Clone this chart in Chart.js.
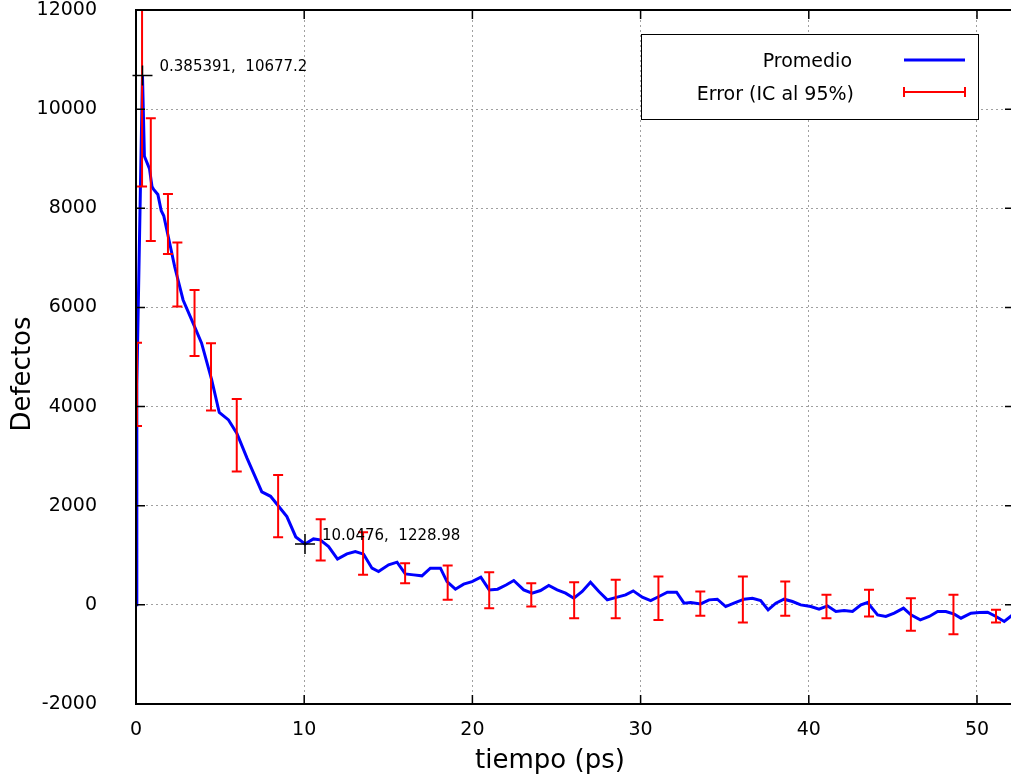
<!DOCTYPE html>
<html>
<head>
<meta charset="utf-8">
<script src="https://cdn.jsdelivr.net/npm/chart.js@4.4.0/dist/chart.umd.min.js"></script>
<style>
html, body { margin: 0; padding: 0; background: #fff; overflow: hidden; width: 1011px; height: 781px; }
#wrap { width: 1014px; height: 781px; }
</style>
</head>
<body>
<div id="wrap"><canvas id="defectChart" width="1014" height="781"></canvas></div>
<script>
// mean curve (tiempo in ps, defectos)
const timeValues = [0, 0.05, 0.385, 0.5, 0.8, 0.95, 1.05, 1.3, 1.5, 1.65, 2.0, 2.3, 2.8, 3.4, 3.9, 4.5, 4.95, 5.5,
  6.0, 6.6, 7.48, 8.0, 8.97, 9.5, 10.05, 10.55, 10.95, 11.45, 11.98, 12.54, 13.04, 13.53, 14.03, 14.42,
  15.02, 15.52, 16.01, 16.5, 17.0, 17.5, 18.1, 18.49, 18.99, 19.48, 19.98, 20.5, 21.0, 21.5, 22.0, 22.46,
  23.05, 23.55, 24.05, 24.54, 25.04, 25.54, 26.03, 26.53, 27.02, 27.52, 28.02, 28.61, 29.11, 29.56, 30.1,
  30.6, 31.09, 31.59, 32.14, 32.58, 32.98, 33.57, 34.07, 34.56, 35.06, 35.55, 36.15, 36.65, 37.14, 37.58,
  38.04, 38.53, 39.03, 39.52, 40.12, 40.61, 41.11, 41.61, 42.1, 42.6, 43.1, 43.49, 44.09, 44.58, 45.08,
  45.63, 46.07, 46.63, 47.16, 47.66, 48.15, 48.65, 49.05, 49.64, 50.14, 50.63, 51.13, 51.62, 52.2];
const meanValues = [0, 4450, 10677, 9050, 8800, 8440, 8380, 8280, 7950, 7850, 7300, 6820, 6150, 5680, 5280, 4540, 3880, 3730,
  3460, 2960, 2280, 2190, 1780, 1370, 1229, 1330, 1311, 1176, 922, 1029, 1075, 1022, 740, 672,
  807, 861, 625, 605, 585, 740, 740, 470, 316, 417, 470, 558, 302, 316, 400, 491,
  302, 235, 289, 390, 302, 235, 134, 269, 457, 269, 101, 155, 202, 282, 155,
  87, 168, 256, 256, 34, 47, 20, 101, 114, -34, 34, 114, 134, 87, -101,
  34, 114, 67, 0, -34, -87, -20, -134, -114, -134, 0, 47, -202, -235, -168,
  -67, -202, -303, -235, -134, -134, -188, -269, -168, -155, -148, -235, -336, -180];

// 95% confidence interval bars
const errTimes = [0.06, 0.36, 0.88, 1.9, 2.46, 3.48, 4.46, 5.99, 8.45, 10.98, 13.5, 16.0, 18.53, 21.0,
  23.5, 26.05, 28.52, 31.06, 33.55, 36.08, 38.6, 41.05, 43.58, 46.07, 48.6, 51.13];
const errLow = [3610, 8440, 7340, 7080, 6020, 5020, 3920, 2690, 1365, 894, 605, 438, 101, -67,
  -34, -269, -269, -303, -222, -356, -222, -269, -235, -524, -591, -356];
const errHigh = [5285, 12000, 9817, 8290, 7308, 6354, 5278, 4155, 2622, 1728, 1466, 841, 793, 660,
  438, 457, 504, 571, 269, 571, 471, 202, 303, 134, 202, -101];

// labelled points
const markTimes = [0.385391, 10.0476];
const markValues = [10677.2, 1228.98];
const markLabels = ["0.385391,  10677.2", "10.0476,  1228.98"];

const xTicks = [0, 10, 20, 30, 40, 50];
const yTicks = [-2000, 0, 2000, 4000, 6000, 8000, 10000, 12000];

const FONT = "'DejaVu Sans', sans-serif";

const gnuplotLook = {
    id: "gnuplotLook",
    afterDatasetDraw(chart, args) {
        if (args.index !== 1) return;
        const ctx = chart.ctx;
        const x = chart.scales.x, y = chart.scales.y;
        const area = chart.chartArea;
        ctx.save();
        ctx.beginPath();
        ctx.rect(area.left, area.top - 1, area.right - area.left, area.bottom - area.top + 2);
        ctx.clip();
        ctx.strokeStyle = "#ff0000";
        ctx.lineWidth = 2;
        ctx.beginPath();
        errTimes.forEach((t, i) => {
            const px = x.getPixelForValue(t);
            const lo = y.getPixelForValue(errLow[i]);
            const hi = y.getPixelForValue(errHigh[i]);
            ctx.moveTo(px, lo); ctx.lineTo(px, hi);
            ctx.moveTo(px - 5, lo); ctx.lineTo(px + 5, lo);
            ctx.moveTo(px - 5, hi); ctx.lineTo(px + 5, hi);
        });
        ctx.stroke();
        ctx.restore();
    },
    afterDraw(chart) {
        const ctx = chart.ctx;
        const x = chart.scales.x, y = chart.scales.y;
        const a = chart.chartArea;
        ctx.save();
        // frame with inward ticks
        ctx.strokeStyle = "#000";
        ctx.lineWidth = 2;
        ctx.strokeRect(a.left, a.top, a.right - a.left, a.bottom - a.top);
        ctx.lineWidth = 1.5;
        ctx.beginPath();
        xTicks.forEach(v => {
            const px = x.getPixelForValue(v);
            ctx.moveTo(px, a.bottom); ctx.lineTo(px, a.bottom - 9);
            ctx.moveTo(px, a.top); ctx.lineTo(px, a.top + 9);
        });
        yTicks.forEach(v => {
            const py = y.getPixelForValue(v);
            ctx.moveTo(a.left, py); ctx.lineTo(a.left + 9, py);
            ctx.moveTo(a.right, py); ctx.lineTo(a.right - 9, py);
        });
        ctx.stroke();

        // point labels
        ctx.fillStyle = "#000";
        ctx.font = "15px " + FONT;
        ctx.textAlign = "left";
        ctx.textBaseline = "middle";
        markLabels.forEach((txt, i) => {
            const px = x.getPixelForValue(markTimes[i]);
            const py = y.getPixelForValue(markValues[i]);
            ctx.fillText(txt, px + 17, py - 8);
        });

        // axis titles
        ctx.font = "26px " + FONT;
        ctx.textAlign = "center";
        ctx.fillText("tiempo (ps)", 550, 761);
        ctx.save();
        ctx.translate(23, 374);
        ctx.rotate(-Math.PI / 2);
        ctx.fillText("Defectos", 0, 0);
        ctx.restore();

        // legend
        ctx.fillStyle = "#fff";
        ctx.fillRect(641, 34, 337, 85);
        ctx.lineWidth = 1;
        ctx.strokeStyle = "#000";
        ctx.strokeRect(641.5, 34.5, 337, 85);
        ctx.fillStyle = "#000";
        ctx.font = "19px " + FONT;
        ctx.textAlign = "right";
        ctx.fillText("Promedio", 852, 62);
        ctx.fillText("Error (IC al 95%)", 854, 95);
        ctx.strokeStyle = "#0000ff";
        ctx.lineWidth = 3;
        ctx.beginPath();
        ctx.moveTo(904, 60); ctx.lineTo(965, 60);
        ctx.stroke();
        ctx.strokeStyle = "#ff0000";
        ctx.lineWidth = 2;
        ctx.beginPath();
        ctx.moveTo(904, 92); ctx.lineTo(965, 92);
        ctx.moveTo(904, 87); ctx.lineTo(904, 97);
        ctx.moveTo(965, 87); ctx.lineTo(965, 97);
        ctx.stroke();
        ctx.restore();
    }
};

const ctx = document.getElementById("defectChart").getContext("2d");
const defectChart = new Chart(ctx, {
    type: "scatter",
    data: {
        datasets: [
            {
                label: "marks",
                data: markTimes.map((t, i) => ({ x: t, y: markValues[i] })),
                pointStyle: "cross",
                pointRadius: 10,
                pointHoverRadius: 0,
                borderColor: "#000",
                borderWidth: 1.5,
                clip: false,
                order: 0
            },
            {
                label: "Promedio",
                type: "line",
                data: timeValues.map((t, i) => ({ x: t, y: meanValues[i] })),
                borderColor: "#0000ff",
                borderWidth: 3,
                pointRadius: 0,
                pointHoverRadius: 0,
                tension: 0,
                fill: false,
                order: 1
            }
        ]
    },
    options: {
        responsive: false,
        animation: false,
        layout: { autoPadding: false, padding: { top: 10, left: 0, right: 0, bottom: 0 } },
        plugins: { legend: { display: false }, tooltip: { enabled: false } },
        scales: {
            x: {
                type: "linear",
                min: 0,
                max: 52.2,
                afterBuildTicks: s => { s.ticks = xTicks.map(v => ({ value: v })); },
                afterFit: s => { s.height = 77; s.paddingLeft = 0; s.paddingRight = 0; },
                ticks: {
                    color: "#000",
                    font: { family: FONT, size: 19 },
                    padding: 15,
                    maxRotation: 0,
                    callback: v => String(v)
                },
                grid: { color: "#a0a0a0", lineWidth: 1, drawTicks: false },
                border: { display: false, dash: [2, 3] }
            },
            y: {
                min: -2000,
                max: 12000,
                afterBuildTicks: s => { s.ticks = yTicks.map(v => ({ value: v })); },
                afterFit: s => { s.width = 136; s.paddingTop = 0; s.paddingBottom = 0; },
                ticks: {
                    color: "#000",
                    font: { family: FONT, size: 19 },
                    padding: 39,
                    callback: v => String(v)
                },
                grid: { color: "#a0a0a0", lineWidth: 1, drawTicks: false },
                border: { display: false, dash: [2, 3] }
            }
        }
    },
    plugins: [gnuplotLook]
});
</script>
</body>
</html>
